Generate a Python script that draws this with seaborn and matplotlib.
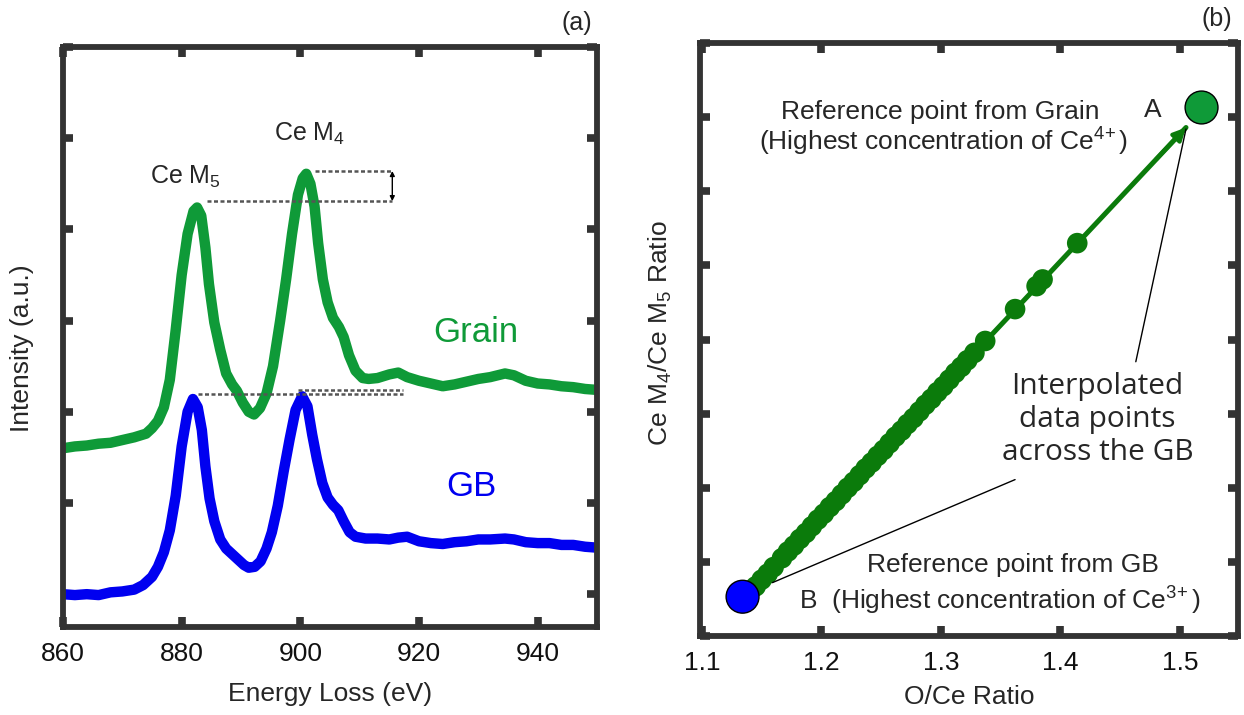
import numpy as np
import pandas as pd
import matplotlib
matplotlib.use("Agg")
import matplotlib.pyplot as plt
import seaborn as sns

# ---------------- data: panel (a) EELS spectra ----------------
grain_E = [860, 862, 864, 866, 868, 870, 872, 874, 875, 876, 877, 878, 879, 880, 881,
           882, 882.6, 883.3, 884, 884.6, 885.5, 886.5, 887.5, 888.5, 889.3, 890.3,
           891.3, 892.2, 893.2, 894.3, 895.4, 896.6, 897.6, 898.6, 899.6, 900.4, 901,
           901.7, 902.4, 903, 903.8, 904.6, 905.5, 906.5, 907.3, 908.2, 909.3, 910.5,
           911.5, 913, 915, 916.5, 918, 920, 922, 924, 926, 928, 930, 932, 934.5, 936,
           938, 940, 942, 944, 946, 948, 950]
grain_I = [1.60, 1.62, 1.63, 1.65, 1.66, 1.69, 1.72, 1.76, 1.82, 1.90, 2.05, 2.35, 2.90,
           3.50, 3.95, 4.20, 4.24, 4.15, 3.80, 3.40, 2.98, 2.68, 2.42, 2.30, 2.23, 2.10,
           2.00, 1.97, 2.04, 2.20, 2.50, 3.00, 3.45, 3.95, 4.38, 4.56, 4.61, 4.50, 4.25,
           3.85, 3.45, 3.20, 3.03, 2.93, 2.82, 2.62, 2.45, 2.37, 2.36, 2.37, 2.41, 2.43,
           2.38, 2.34, 2.31, 2.28, 2.30, 2.33, 2.36, 2.38, 2.42, 2.40, 2.34, 2.31, 2.30,
           2.28, 2.27, 2.25, 2.24]

gb_E = [860, 862, 864, 866, 868, 870, 872, 873.5, 875, 876, 877, 878, 879, 880, 881,
        881.9, 882.7, 883.4, 884, 884.7, 885.5, 886.5, 887.5, 888.5, 889.5, 890.5,
        891.3, 892.3, 893.3, 894.3, 895.2, 896.2, 897.2, 898.2, 899.2, 900.3, 901.2,
        902, 902.8, 903.7, 904.6, 905.5, 906.4, 907.3, 908.3, 909.3, 911, 913, 915,
        916.5, 918, 920, 922, 924, 926, 928, 930, 932, 934.5, 936, 938, 940, 942, 944,
        946, 948, 950]
gb_I = [0.00, -0.01, 0.00, -0.01, 0.02, 0.03, 0.05, 0.10, 0.19, 0.30, 0.46, 0.70, 1.08,
        1.62, 2.00, 2.14, 2.05, 1.80, 1.40, 1.05, 0.80, 0.60, 0.50, 0.44, 0.38, 0.32,
        0.29, 0.30, 0.36, 0.50, 0.68, 0.97, 1.35, 1.70, 2.02, 2.17, 2.06, 1.75, 1.48,
        1.22, 1.06, 0.98, 0.92, 0.80, 0.68, 0.63, 0.61, 0.61, 0.60, 0.62, 0.63, 0.58,
        0.56, 0.55, 0.57, 0.58, 0.60, 0.60, 0.61, 0.60, 0.57, 0.56, 0.56, 0.54, 0.54,
        0.52, 0.51]

energy_ticks = [860, 880, 900, 920, 940]

# ---------------- data: panel (b) ratio plot ----------------
interp_oce = [1.145, 1.150, 1.155, 1.160, 1.167, 1.172, 1.177, 1.182, 1.187, 1.192,
              1.197, 1.202, 1.207, 1.212, 1.217, 1.222, 1.227, 1.232, 1.237, 1.242,
              1.247, 1.252, 1.257, 1.262, 1.267, 1.272, 1.277, 1.282, 1.287, 1.292,
              1.297, 1.302, 1.307, 1.312, 1.317, 1.322, 1.328, 1.337, 1.362, 1.380,
              1.385, 1.414]
interp_ratio = [0.67, 0.76, 0.84, 0.93, 1.05, 1.14, 1.22, 1.31, 1.39, 1.48,
                1.57, 1.65, 1.74, 1.82, 1.91, 2.00, 2.08, 2.17, 2.26, 2.34,
                2.43, 2.51, 2.60, 2.69, 2.77, 2.86, 2.94, 3.03, 3.12, 3.20,
                3.29, 3.37, 3.46, 3.55, 3.63, 3.72, 3.82, 3.98, 4.41, 4.72,
                4.81, 5.30]
trend_oce = [1.145, 1.505]
trend_ratio = [0.67, 6.86]
ref_A = (1.518, 7.13)
ref_B = (1.134, 0.53)
oce_ticks = [1.1, 1.2, 1.3, 1.4, 1.5]

# ---------------- style ----------------
sns.set_theme(style="white")
plt.rcParams["font.family"] = ["Liberation Sans", "DejaVu Sans"]
plt.rcParams["mathtext.fontset"] = "custom"
plt.rcParams["mathtext.rm"] = "Liberation Sans"
plt.rcParams["mathtext.it"] = "Liberation Sans"
plt.rcParams["mathtext.default"] = "rm"

SPINE = "#333333"
GREEN_A = "#0f9a38"
GREEN_B = "#0b7b0b"
BLUE = "#0000f0"
FS = 19

fig = plt.figure(figsize=(12.44, 7.15), dpi=100)
axa = fig.add_axes([63 / 1244, 1 - 627 / 715, (597 - 63) / 1244, (627 - 47) / 715])
axb = fig.add_axes([700 / 1244, 1 - 636 / 715, (1238 - 700) / 1244, (636 - 43) / 715])

for ax in (axa, axb):
    for s in ax.spines.values():
        s.set_linewidth(4.2)
        s.set_color(SPINE)
    ax.tick_params(direction="in", length=7, width=5.5, color=SPINE,
                   top=True, right=True, bottom=True, left=True,
                   labelsize=FS, pad=11, labelcolor="#111111")
    ax.grid(False)

# ---------------- panel (a) ----------------
dfg = pd.DataFrame({"E": grain_E, "I": grain_I})
dfb = pd.DataFrame({"E": gb_E, "I": gb_I})
sns.lineplot(data=dfg, x="E", y="I", ax=axa, color=GREEN_A, lw=7.5, sort=False,
             solid_capstyle="butt", solid_joinstyle="round")
sns.lineplot(data=dfb, x="E", y="I", ax=axa, color=BLUE, lw=7.5, sort=False,
             solid_capstyle="butt", solid_joinstyle="round")
axa.set_xlim(860, 950)
axa.set_ylim(-0.36, 6.0)
axa.set_xticks(energy_ticks)
axa.set_yticks([0, 1, 2, 3, 4, 5, 6])
axa.set_yticklabels([])
axa.set_xlabel("Energy Loss (eV)", fontsize=FS, labelpad=11)
axa.set_ylabel("Intensity (a.u.)", fontsize=FS)
axa.yaxis.set_label_coords(-0.055, 0.48)

# dotted peak-height guides
dot = dict(color="#555555", lw=1.8, linestyle=(0, (1.6, 1.0)))
axa.hlines(4.64, 902.5, 915.5, **dot)
axa.hlines(4.31, 884.3, 915.5, **dot)
axa.hlines(2.24, 899.6, 917.3, **dot)
axa.hlines(2.20, 882.8, 917.3, **dot)
axa.annotate("", xy=(915.5, 4.64), xytext=(915.5, 4.31),
             arrowprops=dict(arrowstyle="<|-|>", lw=1.0, color="black",
                             mutation_scale=7, shrinkA=0, shrinkB=0))

axa.text(880.7, 4.58, "Ce M$_5$", fontsize=FS - 1, ha="center", va="center")
axa.text(901.6, 5.05, "Ce M$_4$", fontsize=FS - 1, ha="center", va="center")
axa.text(929.6, 2.87, "Grain", fontsize=25, color=GREEN_A, ha="center", va="center")
axa.text(928.8, 1.18, "GB", fontsize=25, color=BLUE, ha="center", va="center")
axa.text(0.99, 1.02, "(a)", transform=axa.transAxes, fontsize=FS - 1,
         ha="right", va="bottom")

# ---------------- panel (b) ----------------
dft = pd.DataFrame({"x": trend_oce, "y": trend_ratio})
sns.lineplot(data=dft, x="x", y="y", ax=axb, color=GREEN_B, lw=3.6)
axb.annotate("", xy=(trend_oce[1], trend_ratio[1]), xytext=(1.48, 6.43),
             arrowprops=dict(arrowstyle="-|>", lw=3.0, color=GREEN_B,
                             mutation_scale=18, shrinkA=0, shrinkB=0))
dfi = pd.DataFrame({"x": interp_oce, "y": interp_ratio})
sns.scatterplot(data=dfi, x="x", y="y", ax=axb, color=GREEN_B, s=220,
                marker="o", edgecolor="none", zorder=3)

dfref = pd.DataFrame({"x": [ref_A[0], ref_B[0]], "y": [ref_A[1], ref_B[1]],
                      "c": ["A", "B"]})
sns.scatterplot(data=dfref, x="x", y="y", hue="c",
                palette={"A": GREEN_A, "B": "#0000ff"}, s=560, edgecolor="black",
                linewidth=1.0, ax=axb, legend=False, zorder=5)

axb.set_xlim(1.0984, 1.5485)
axb.set_ylim(0, 8)
axb.set_xticks(oce_ticks)
axb.set_yticks(range(0, 9))
axb.set_yticklabels([])
axb.set_xlabel("O/Ce Ratio", fontsize=FS, labelpad=7)
axb.set_ylabel("Ce M$_4$/Ce M$_5$ Ratio", fontsize=FS)
axb.yaxis.set_label_coords(-0.048, 0.51)

TFS = 19
axb.text(1.299, 7.07, "Reference point from Grain", fontsize=TFS, ha="center", va="center")
axb.text(1.302, 6.67, "(Highest concentration of Ce$^{4\\!+}$)", fontsize=TFS,
         ha="center", va="center")
axb.text(1.477, 7.10, "A", fontsize=TFS, ha="center", va="center")
axb.text(1.360, 0.96, "Reference point from GB", fontsize=TFS, ha="center", va="center")
axb.text(1.349, 0.47, "B  (Highest concentration of Ce$^{3\\!+}$)", fontsize=TFS,
         ha="center", va="center")
axb.text(1.431, 2.92, "Interpolated\ndata points\nacross the GB", fontsize=21.5,
         ha="center", va="center", linespacing=1.2,
         family=["Open Sans", "DejaVu Sans"])

thin = dict(arrowstyle="-", lw=1.0, color="black", shrinkA=0, shrinkB=0)
axb.annotate("", xy=(1.505, 6.84), xytext=(1.463, 3.70), arrowprops=thin)
axb.annotate("", xy=(1.159, 0.72), xytext=(1.362, 2.11), arrowprops=thin)
axb.text(0.99, 1.02, "(b)", transform=axb.transAxes, fontsize=FS - 1,
         ha="right", va="bottom")

fig.savefig("out.png", dpi=100)
